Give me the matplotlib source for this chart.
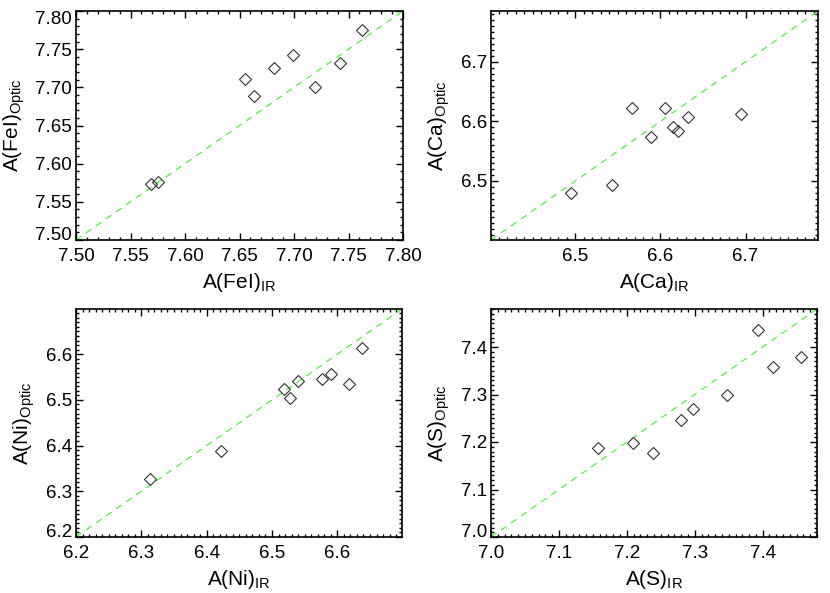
import numpy as np
import matplotlib
matplotlib.use("Agg")
import matplotlib.pyplot as plt
from matplotlib.ticker import MultipleLocator, FormatStrFormatter

plt.rcParams['font.family'] = ['Liberation Sans', 'DejaVu Sans']
plt.rcParams['mathtext.fontset'] = 'custom'
plt.rcParams['mathtext.rm'] = 'Liberation Sans'
plt.rcParams['mathtext.it'] = 'Liberation Sans'

# abundances: infrared vs optical, one pair of lists per element
fe_ir = [7.569, 7.575, 7.655, 7.663, 7.682, 7.699, 7.719, 7.742, 7.762]
fe_opt = [7.574, 7.576, 7.711, 7.688, 7.725, 7.742, 7.701, 7.732, 7.775]

ca_ir = [6.495, 6.543, 6.566, 6.605, 6.589, 6.615, 6.621, 6.632, 6.694]
ca_opt = [6.480, 6.493, 6.623, 6.622, 6.574, 6.590, 6.583, 6.608, 6.613]

ni_ir = [6.314, 6.422, 6.519, 6.527, 6.540, 6.577, 6.591, 6.618, 6.638]
ni_opt = [6.328, 6.389, 6.524, 6.504, 6.541, 6.546, 6.557, 6.534, 6.613]

s_ir = [7.158, 7.209, 7.238, 7.280, 7.298, 7.347, 7.393, 7.415, 7.457]
s_opt = [7.187, 7.198, 7.177, 7.247, 7.270, 7.299, 7.435, 7.358, 7.378]

panels = [
    # x, y, element, limits, major ticks, minor step, tick format
    (fe_ir, fe_opt, "FeI", (7.50, 7.80), [7.50, 7.55, 7.60, 7.65, 7.70, 7.75, 7.80], 0.01, "%.2f"),
    (ca_ir, ca_opt, "Ca", (6.401, 6.785), [6.5, 6.6, 6.7], 0.01, "%.1f"),
    (ni_ir, ni_opt, "Ni", (6.20, 6.699), [6.2, 6.3, 6.4, 6.5, 6.6], 0.01, "%.1f"),
    (s_ir, s_opt, "S", (7.00, 7.48), [7.0, 7.1, 7.2, 7.3, 7.4], 0.01, "%.1f"),
]

W, H = 830, 593
boxes = [(76, 11, 403, 240), (491, 11, 818, 240), (76, 309, 402, 537), (491, 309, 817, 537)]

fig = plt.figure(figsize=(W / 100, H / 100), dpi=100)

for (x, y, el, lim, ticks, minor, fmt), (x0, y0, x1, y1) in zip(panels, boxes):
    ax = fig.add_axes([x0 / W, 1 - y1 / H, (x1 - x0) / W, (y1 - y0) / H])
    ax.plot(lim, lim, color='#44ee33', lw=0.8, dashes=(6, 5))
    ax.plot(x, y, linestyle='none', marker='D', ms=6, mfc='none',
            mec='#333333', mew=0.8)
    ax.set_xlim(lim)
    ax.set_ylim(lim)
    ax.set_xticks(ticks)
    ax.set_yticks(ticks)
    ax.xaxis.set_minor_locator(MultipleLocator(minor))
    ax.yaxis.set_minor_locator(MultipleLocator(minor))
    ax.xaxis.set_major_formatter(FormatStrFormatter(fmt))
    ax.yaxis.set_major_formatter(FormatStrFormatter(fmt))
    ax.tick_params(which='both', direction='in', top=True, right=True,
                   labelsize=13.5, width=1.0)
    ax.tick_params(which='major', length=5)
    ax.tick_params(which='minor', length=2.5)
    ax.tick_params(axis='x', pad=6)
    ax.tick_params(axis='y', pad=3)
    for sp in ax.spines.values():
        sp.set_linewidth(1.2)
    ax.set_xlabel(r'A(%s)$_{\mathrm{IR}}$' % el, fontsize=15, labelpad=4)
    ax.set_ylabel(r'A(%s)$_{\mathrm{Optic}}$' % el, fontsize=15, labelpad=6)
    # keep the edge labels on the y axis inside the box
    ylabels = ax.get_yticklabels()
    if abs(ticks[0] - lim[0]) < 1e-6:
        ylabels[0].set_va('baseline')
    if abs(ticks[-1] - lim[1]) < 1e-6:
        ylabels[-1].set_va('top')

fig.savefig("out.png", dpi=100)
